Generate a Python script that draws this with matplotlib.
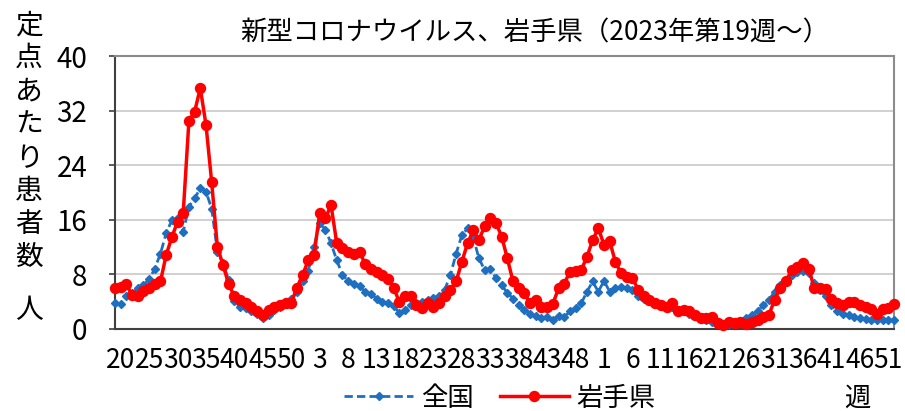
import numpy as np
import matplotlib.pyplot as plt

plt.rcParams['font.family'] = ['Noto Sans CJK JP', 'DejaVu Sans']

# 定点あたり患者数, 2023年第19週から週ごと
zenkoku = [3.7, 3.6, 4.7, 5.2, 5.9, 6.4, 7.2, 8.8, 11.0, 14.0,
           15.9, 16.2, 14.2, 17.9, 19.1, 20.6, 20.1, 17.6, 11.3, 9.6,
           7.1, 4.0, 3.2, 3.0, 2.5, 2.1, 1.6, 2.0, 2.7, 3.2,
           3.7, 4.3, 5.4, 7.0, 8.5, 12.0, 15.5, 14.5, 12.5, 10.0,
           7.9, 6.9, 6.5, 6.2, 5.4, 5.1, 4.4, 3.9, 3.7, 3.3,
           2.3, 2.7, 3.5, 3.7, 3.9, 4.2, 4.5, 4.7, 5.7, 7.9,
           11.0, 13.7, 14.7, 13.4, 10.3, 8.6, 8.8, 7.4, 6.4, 5.2,
           4.4, 3.5, 2.7, 2.2, 1.8, 1.6, 1.7, 1.3, 1.8, 1.7,
           2.5, 3.0, 3.7, 5.4, 6.9, 5.4, 7.0, 5.4, 5.9, 6.1,
           6.0, 5.6, 4.7, 4.4, 4.2, 3.8, 3.5, 3.2, 3.1, 2.7,
           2.5, 2.2, 2.0, 1.5, 1.25, 1.0, 0.8, 0.5, 0.7, 0.85,
           1.1, 1.5, 2.0, 2.5, 3.4, 4.2, 5.4, 6.4, 7.1, 7.9,
           8.3, 8.5, 8.1, 6.7, 5.6, 4.7, 3.5, 2.5, 2.2, 2.0,
           1.7, 1.6, 1.4, 1.3, 1.2, 1.2, 1.2, 1.2]

iwate = [5.9, 6.1, 6.5, 4.9, 4.7, 5.5, 6.0, 6.5, 6.9, 10.8,
         13.4, 15.7, 17.0, 30.5, 31.8, 35.3, 29.9, 21.5, 12.0, 9.3,
         6.5, 4.7, 4.2, 3.8, 3.2, 2.6, 2.0, 2.7, 3.2, 3.5,
         3.7, 3.8, 6.0, 7.9, 10.0, 10.8, 16.9, 16.2, 18.1, 12.5,
         11.8, 11.3, 11.0, 11.2, 9.5, 8.8, 8.3, 7.8, 7.2, 6.0,
         3.9, 4.7, 4.7, 3.5, 3.0, 3.7, 3.2, 3.7, 4.7, 5.7,
         6.9, 9.8, 12.5, 14.4, 13.0, 15.0, 16.2, 15.5, 13.5, 10.3,
         6.9, 5.9, 5.2, 3.7, 4.2, 3.2, 3.2, 3.6, 5.9, 6.6,
         8.3, 8.4, 8.6, 10.5, 13.0, 14.7, 12.3, 12.8, 9.8, 8.1,
         7.6, 7.4, 5.7, 4.7, 4.2, 3.7, 3.5, 3.2, 3.7, 2.5,
         2.7, 2.5, 2.0, 1.5, 1.5, 1.7, 0.8, 0.5, 0.9, 0.8,
         1.0, 0.7, 1.0, 1.2, 1.7, 2.0, 4.2, 5.9, 6.9, 8.6,
         9.1, 9.6, 8.8, 5.9, 5.9, 5.8, 4.4, 3.7, 3.5, 3.9,
         3.9, 3.5, 3.2, 2.8, 2.2, 2.8, 3.0, 3.6]

week_labels = ['20', '25', '30', '35', '40', '45', '50',
               '3', '8', '13', '18', '23', '28', '33', '38', '43', '48',
               '1', '6', '11', '16', '21', '26', '31', '36', '41', '46', '51']

y_ticks = [0, 8, 16, 24, 32, 40]
ylabel_chars = ['定', '点', 'あ', 'た', 'り', '患', '者', '数']

x = np.arange(len(iwate))

fig = plt.figure(figsize=(9.05, 4.11), dpi=100)
W, H = 905, 411
ax = fig.add_axes([115 / W, 1 - 328.5 / H, (894 - 115) / W, (328.5 - 56) / H])

ax.plot(x, zenkoku, color='#1f6fc1', lw=2, ls=(0, (3, 1.5)), marker='D', ms=4.2,
        label='全国', clip_on=False, zorder=3)
ax.plot(x, iwate, color='#ff0000', lw=2.5, marker='o', ms=7.2,
        label='岩手県', clip_on=False, zorder=4)

ax.set_xlim(0, len(iwate) - 1)
ax.set_ylim(0, 40)
ax.set_yticks(y_ticks)
ax.set_xticks(x[1::5])
ax.set_xticklabels(week_labels)

ax.yaxis.grid(True, color='#c8c8c8', lw=1.2)
ax.set_axisbelow(True)
for s in ['top', 'right']:
    ax.spines[s].set_color('#8c8c8c')
    ax.spines[s].set_linewidth(1.5)
for s in ['left', 'bottom']:
    ax.spines[s].set_color('#404040')
    ax.spines[s].set_linewidth(1.5)

ax.tick_params(axis='y', length=4, width=1.2, color='#404040', pad=16, labelsize=20)
ax.tick_params(axis='x', length=0, pad=13, labelsize=19)

fig.text(534.5 / W, 1 - 33 / H, '新型コロナウイルス、岩手県（2023年第19週～）',
         ha='center', va='center', fontsize=19)

for k, ch in enumerate(ylabel_chars):
    fig.text(29 / W, 1 - (25 + k * 33.2) / H, ch, ha='center', va='center', fontsize=20)
fig.text(29 / W, 1 - 310 / H, '人', ha='center', va='center', fontsize=20)

fig.text(857 / W, 1 - 398 / H, '週', ha='center', va='center', fontsize=19)

fig.legend(loc='center', bbox_to_anchor=(500 / W, 1 - 398 / H), ncol=2, frameon=False,
           fontsize=19, handlelength=2.6, handletextpad=0.3, columnspacing=1.0,
           borderpad=0, borderaxespad=0)

fig.savefig('out.png', dpi=100)
